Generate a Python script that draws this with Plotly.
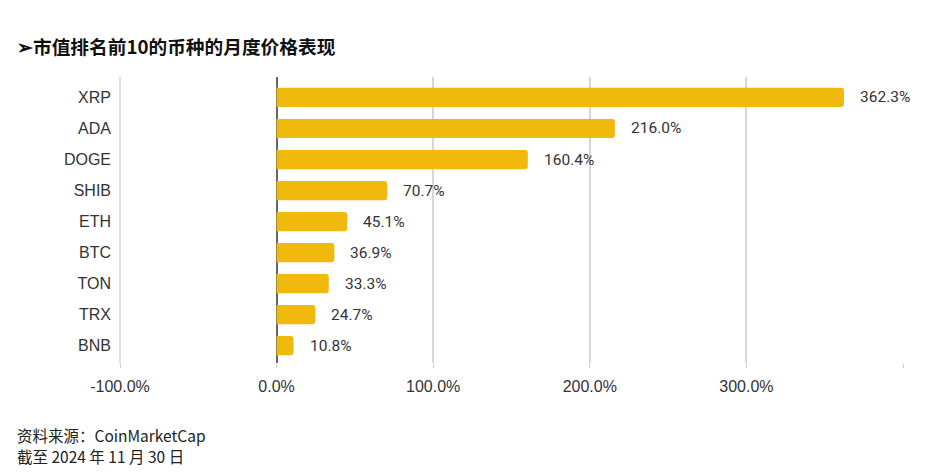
import plotly.graph_objects as go

coins = ["XRP", "ADA", "DOGE", "SHIB", "ETH", "BTC", "TON", "TRX", "BNB"]
changes = [362.3, 216.0, 160.4, 70.7, 45.1, 36.9, 33.3, 24.7, 10.8]
tick_vals = [-100, 0, 100, 200, 300, 400]
tick_text = ["-100.0%", "0.0%", "100.0%", "200.0%", "300.0%", ""]

title_text = "➢市值排名前10的币种的月度价格表现"
source_text = "资料来源：CoinMarketCap"
date_text = "截至 2024 年 11 月 30 日"

fig = go.Figure()
fig.add_trace(go.Bar(
    x=changes, y=coins, orientation="h",
    marker=dict(color="#F0B90B", line=dict(width=0)),
    width=0.62, hoverinfo="skip",
))

for c, v in zip(coins, changes):
    fig.add_annotation(x=v, y=c, xref="x", yref="y", text=f"{v:.1f}%",
                       showarrow=False, xanchor="left", xshift=14,
                       font=dict(family="Roboto, Arial", size=15.5, color="#333333"))

# left-edge gridline (plotly hides grid lines at the plot edge)
fig.add_shape(type="line", x0=0, x1=0, y0=0, y1=1,
              xref="paper", yref="paper", line=dict(color="#d6d6d6", width=1.5), layer="above")

plot_w = 949 - 120 - 46
fig.add_annotation(x=(15 - 120) / plot_w, y=1 + (77 - 45) / 286, xref="paper", yref="paper",
                   text=f"<b>{title_text}</b>", showarrow=False, xanchor="left", yanchor="middle",
                   font=dict(family="Noto Sans CJK SC", size=18.7, color="#111111"))
for txt, yc in ((source_text, 435), (date_text, 456)):
    fig.add_annotation(x=(15 - 120) / plot_w, y=-(yc - 363) / 286, xref="paper", yref="paper",
                       text=txt, showarrow=False, xanchor="left", yanchor="middle",
                       font=dict(family="Noto Sans CJK SC", size=15.5, color="#222222"))

fig.update_layout(
    width=949, height=475,
    margin=dict(l=120, r=46, t=77, b=112, pad=0),
    plot_bgcolor="white", paper_bgcolor="white",
    showlegend=False, barcornerradius=3,
    xaxis=dict(range=[-100, 400], tickvals=tick_vals, ticktext=tick_text,
               showgrid=True, gridcolor="#d6d6d6", gridwidth=1.5,
               zeroline=True, zerolinecolor="#666666", zerolinewidth=1.5,
               ticks="outside", ticklen=4, tickcolor="#cccccc", ticklabelstandoff=5,
               tickfont=dict(family="Liberation Sans, Arial", size=16, color="#333333"),
               showline=False, fixedrange=True),
    yaxis=dict(categoryorder="array", categoryarray=coins, range=[8.56, -0.66],
               showgrid=False, zeroline=False, showline=False,
               ticks="", ticklabelstandoff=8,
               tickfont=dict(family="Liberation Sans, Arial", size=16, color="#333333"),
               fixedrange=True),
)

fig.write_html("out.html")
